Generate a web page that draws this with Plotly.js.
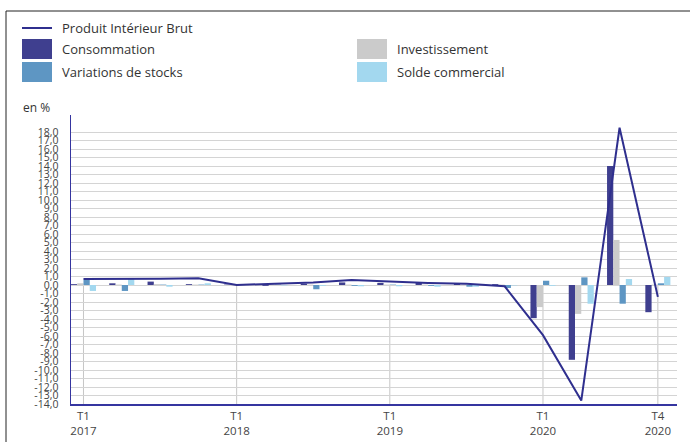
<!DOCTYPE html>
<html><head><meta charset="utf-8">
<script src="https://cdn.plot.ly/plotly-3.0.1.min.js"></script>
<style>html,body{margin:0;padding:0;background:#fff}#chart{width:690px;height:442px}</style>
</head><body><div id="chart"></div>
<script>
// ---- data ----
const quarters = ["T1 2017","T2 2017","T3 2017","T4 2017",
                  "T1 2018","T2 2018","T3 2018","T4 2018",
                  "T1 2019","T2 2019","T3 2019","T4 2019",
                  "T1 2020","T2 2020","T3 2020","T4 2020"];
const pib            = [0.7, 0.7, 0.75, 0.8,   0.0, 0.15, 0.3, 0.6,   0.4, 0.25, 0.15, -0.15,  -5.9, -13.6, 18.5, -1.4];
const consommation   = [0.1, 0.2, 0.4, 0.1,    0.05, -0.1, 0.15, 0.3, 0.25, 0.25, 0.15, 0.1,   -3.9, -8.8, 14.0, -3.2];
const investissement = [0.2, 0.05, 0.1, 0.05,  0.05, 0.05, 0.05, 0.05, 0.05, 0.05, 0.05, 0.05,  -2.6, -3.4, 5.3, 0.05];
const stocks         = [0.6, -0.7, 0.05, 0.05, 0.05, 0.05, -0.5, -0.1, 0.05, -0.1, -0.2, -0.35, 0.5, 0.9, -2.2, 0.2];
const solde          = [-0.7, 0.8, -0.2, 0.2,  0.0, -0.05, -0.1, -0.15, -0.15, -0.2, -0.2, -0.05, -0.1, -2.2, 0.7, 0.95];
const seriesNames = ["Produit Intérieur Brut","Consommation","Investissement","Variations de stocks","Solde commercial"];
const xTickCats = ["T1 2017","T1 2018","T1 2019","T1 2020","T4 2020"];
const yTickVals = [18,17,16,15,14,13,12,11,10,9,8,7,6,5,4,3,2,1,0,-1,-2,-3,-4,-5,-6,-7,-8,-9,-10,-11,-12,-13,-14];

// ---- styles ----
const colPib='#2f2f8e', colCons='#3f3f8f', colInv='#cbcbcb', colStk='#5e96c3', colSol='#a3d8ef';
const FONT='"Open Sans", sans-serif';
const W=690,H=442,ML=71,MR=13,MT=115,MB=38;
const pw=W-ML-MR, ph=H-MT-MB;
const px=x=>(x-ML)/pw, py=y=>1-(y-MT)/ph;

const bar=(y,name,color)=>({type:'bar',x:quarters,y:y,name:name,marker:{color:color,line:{width:0}},showlegend:false});
const traces=[
  bar(consommation,seriesNames[1],colCons),
  bar(investissement,seriesNames[2],colInv),
  bar(stocks,seriesNames[3],colStk),
  bar(solde,seriesNames[4],colSol),
  {type:'scatter',mode:'lines',x:quarters,y:pib,name:seriesNames[0],line:{color:colPib,width:2},showlegend:false}
];

const shapes=[];
const annotations=[];
// frame
shapes.push({type:'line',xref:'paper',yref:'paper',x0:px(6),x1:px(720),y0:py(11),y1:py(11),line:{color:'#222',width:1}});
shapes.push({type:'line',xref:'paper',yref:'paper',x0:px(6),x1:px(6),y0:py(11),y1:py(470),line:{color:'#222',width:1}});
// vertical grid from 0 down
xTickCats.forEach(c=>shapes.push({type:'line',xref:'x',yref:'y',x0:c,x1:c,y0:0,y1:-14,layer:'below',line:{color:'#c6c6c6',width:1}}));
// legend
const leg=[
  {n:seriesNames[0],c:colPib,line:true,x:22,y:28},
  {n:seriesNames[1],c:colCons,x:22,y:49},
  {n:seriesNames[3],c:colStk,x:22,y:72},
  {n:seriesNames[2],c:colInv,x:357,y:49},
  {n:seriesNames[4],c:colSol,x:357,y:72}
];
leg.forEach(e=>{
  if(e.line){
    shapes.push({type:'line',xref:'paper',yref:'paper',x0:px(e.x),x1:px(e.x+30),y0:py(e.y),y1:py(e.y),line:{color:e.c,width:2}});
  } else {
    shapes.push({type:'rect',xref:'paper',yref:'paper',x0:px(e.x),x1:px(e.x+30),y0:py(e.y-10),y1:py(e.y+10),fillcolor:e.c,line:{width:0}});
  }
  annotations.push({xref:'paper',yref:'paper',x:px(e.x+38),y:py(e.y),xanchor:'left',yanchor:'middle',showarrow:false,text:e.n,font:{family:FONT,size:13,color:'#333'}});
});
annotations.push({xref:'paper',yref:'paper',x:px(21),y:py(107),xanchor:'left',yanchor:'middle',showarrow:false,text:'en %',font:{family:FONT,size:12,color:'#333'}});

const layout={
  width:W,height:H,margin:{l:ML,r:MR,t:MT,b:MB,pad:0},
  paper_bgcolor:'#fff',plot_bgcolor:'#fff',
  barmode:'group',bargap:0.346,bargroupgap:0,
  showlegend:false,
  xaxis:{type:'category',range:[-0.326,15.5],tickmode:'array',tickvals:xTickCats,
    ticktext:xTickCats.map(s=>s.replace(' ','<br>')),showgrid:false,zeroline:false,
    showline:true,linecolor:'#3535a0',linewidth:2,ticks:'',
    tickfont:{family:FONT,size:11.5,color:'#444'},automargin:false,fixedrange:true},
  yaxis:{range:[-14,20],tickmode:'array',tickvals:yTickVals,
    ticktext:yTickVals.map(v=>v.toFixed(1).replace('.',',')),showgrid:true,gridcolor:'#d4d4d4',gridwidth:1,
    zeroline:false,showline:true,linecolor:'#3535a0',linewidth:1.5,ticks:'outside',ticklen:9,tickcolor:'rgba(0,0,0,0)',
    tickfont:{family:FONT,size:10.5,color:'#444'},automargin:false,fixedrange:true},
  shapes:shapes,annotations:annotations,
  font:{family:FONT}
};
Plotly.newPlot('chart',traces,layout,{displayModeBar:false,staticPlot:true});
</script></body></html>
